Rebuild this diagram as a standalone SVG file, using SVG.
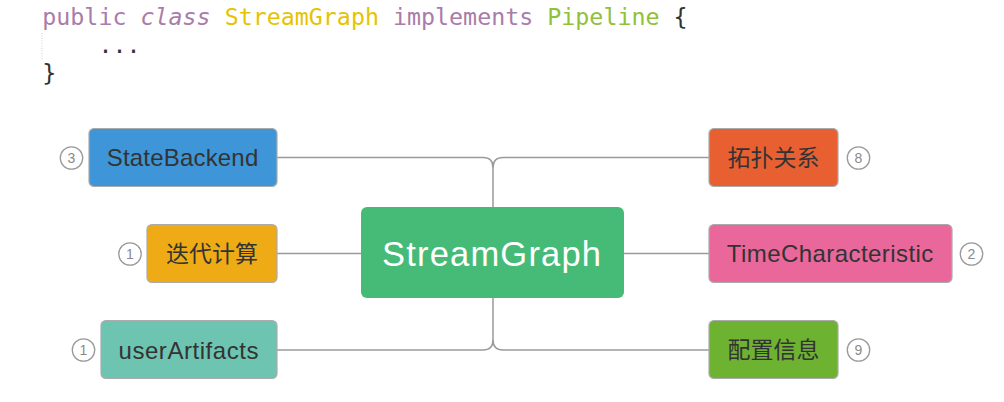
<svg xmlns="http://www.w3.org/2000/svg" width="1004" height="402" viewBox="0 0 1004 402">
<style>
.code{font-family:"DejaVu Sans Mono","Liberation Mono",monospace;font-size:23.3px;fill:#333}
.kw{fill:#a97ca9}
.cls{fill:#e6c300}
.ifc{fill:#8fc13a}
.box{stroke:#ababab;stroke-width:1.2}
.lbl{font-family:"Liberation Sans","Noto Sans CJK SC",sans-serif;font-size:24px;fill:#333;text-anchor:middle}
.cjk{font-family:"Noto Sans CJK SC",sans-serif;font-size:23px;fill:#333;text-anchor:middle}
.num{font-family:"Liberation Sans",sans-serif;font-size:14px;fill:#8a8a8a;text-anchor:middle}
.badge{fill:#fff;stroke:#9a9a9a;stroke-width:1.3}
.conn{fill:none;stroke:#9a9a9a;stroke-width:1.5}
</style>
<rect width="1004" height="402" fill="#fff"/>
<g id="code">
<line x1="42" y1="33" x2="42" y2="59" stroke="#d0d0d0" stroke-width="1" stroke-dasharray="1,1.5"/>
<text class="code" x="42.3" y="25" xml:space="preserve"><tspan class="kw">public</tspan> <tspan class="kw" font-style="italic">class</tspan> <tspan class="cls">StreamGraph</tspan> <tspan class="kw">implements</tspan> <tspan class="ifc">Pipeline</tspan> {</text>
<text class="code" x="42.3" y="53" xml:space="preserve">    ...</text>
<text class="code" x="42.3" y="81">}</text>
</g>
<g id="connectors">
<path class="conn" d="M277,157.5 H483 Q493,157.5 493,167.5 V207"/>
<path class="conn" d="M709,157.5 H503 Q493,157.5 493,167.5"/>
<path class="conn" d="M277,253.5 H361"/>
<path class="conn" d="M624,253.5 H709"/>
<path class="conn" d="M493,298 V340 Q493,350 483,350 H277"/>
<path class="conn" d="M493,340 Q493,350 503,350 H709"/>
</g>
<g id="center">
<rect x="361" y="207" width="263" height="91" rx="6" fill="#46bb77"/>
<text x="491.5" y="266" font-family="Liberation Sans, sans-serif" font-size="34.5" fill="#fff" text-anchor="middle" textLength="219" lengthAdjust="spacing">StreamGraph</text>
</g>
<g id="stateBackend">
<rect class="box" x="89" y="128.5" width="188" height="58" rx="5" fill="#3e96d8"/>
<text class="lbl" x="182.5" y="166.3" textLength="151.5" lengthAdjust="spacing">StateBackend</text>
<circle class="badge" cx="71.5" cy="158" r="11.2"/>
<text class="num" x="71.5" y="163">3</text>
</g>
<g id="iteration">
<rect class="box" x="147" y="224.5" width="130" height="58" rx="5" fill="#eeab15"/>
<text class="cjk" x="212" y="262">迭代计算</text>
<circle class="badge" cx="130" cy="254" r="11.2"/>
<text class="num" x="130" y="259">1</text>
</g>
<g id="userArtifacts">
<rect class="box" x="101" y="320.5" width="176" height="58" rx="5" fill="#6dc4b1"/>
<text class="lbl" x="188.5" y="358.5" textLength="140" lengthAdjust="spacing">userArtifacts</text>
<circle class="badge" cx="83.5" cy="350" r="11.2"/>
<text class="num" x="83.5" y="355">1</text>
</g>
<g id="topology">
<rect class="box" x="709" y="128.5" width="129" height="58" rx="5" fill="#e85f31"/>
<text class="cjk" x="773.5" y="166">拓扑关系</text>
<circle class="badge" cx="858.5" cy="158" r="11.2"/>
<text class="num" x="858.5" y="163">8</text>
</g>
<g id="timeCharacteristic">
<rect class="box" x="709" y="224.5" width="243" height="58" rx="5" fill="#e9679b"/>
<text class="lbl" x="830" y="262.3" textLength="206.5" lengthAdjust="spacing">TimeCharacteristic</text>
<circle class="badge" cx="971.5" cy="254" r="11.2"/>
<text class="num" x="971.5" y="259">2</text>
</g>
<g id="config">
<rect class="box" x="709" y="320.5" width="129" height="58" rx="5" fill="#6db231"/>
<text class="cjk" x="773.5" y="358">配置信息</text>
<circle class="badge" cx="858.5" cy="350" r="11.2"/>
<text class="num" x="858.5" y="355">9</text>
</g>
</svg>
